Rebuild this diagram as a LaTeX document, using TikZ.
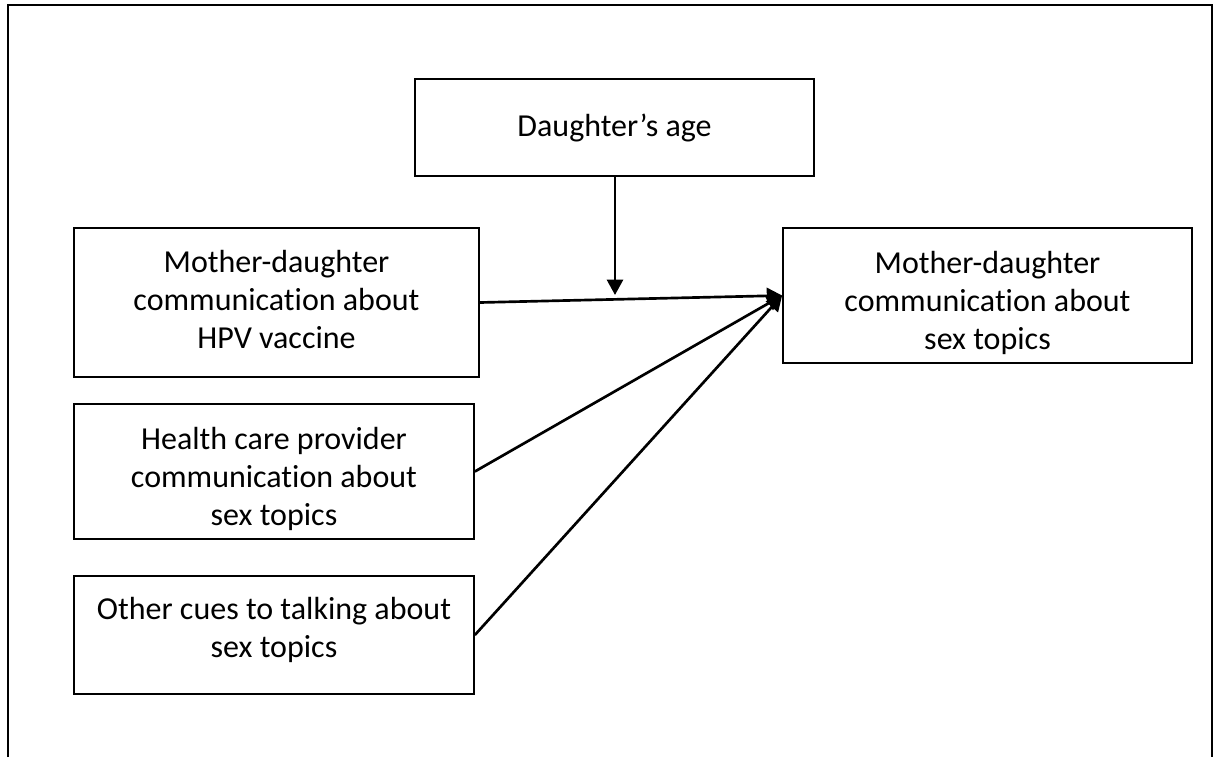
\documentclass[tikz,border=0pt]{standalone}
\usepackage{fontspec}
\setmainfont[Ligatures=NoCommon]{Carlito}
\usetikzlibrary{arrows.meta}
\begin{document}
\begin{tikzpicture}[x=0.75pt,y=-0.75pt,
  box/.style={draw=black, line width=1.3pt, rectangle, inner sep=0pt},
  txt/.style={inner sep=0pt, align=center, font=\fontsize{24}{28.5}\selectfont},
  arr/.style={line width=2pt, -{Triangle[length=11.5pt,width=12pt]}},
  frame/.style={line width=1.3pt}]
\useasboundingbox (0,0) rectangle (1216,757);
% outer frame (open at the bottom)
\draw[frame] (8,757) -- (8,5) -- (1212,5) -- (1212,757);
% boxes
\node[box, minimum width=399*0.75pt, minimum height=97*0.75pt] (age) at (614.5,127.5) {};
\node[box, minimum width=405*0.75pt, minimum height=149*0.75pt] (hpv) at (276.5,302.5) {};
\node[box, minimum width=409*0.75pt, minimum height=135*0.75pt] (out) at (987.5,295.5) {};
\node[box, minimum width=400*0.75pt, minimum height=135*0.75pt] (hcp) at (274,471.5) {};
\node[box, minimum width=400*0.75pt, minimum height=118*0.75pt] (oth) at (274,635) {};
% texts
\node[txt] (agetxt) at (614.5,128) {Daughter’s age};
\node[txt] (hpvtxt) at (276.5,299.5) {Mother-daughter\\communication about\\HPV vaccine};
\node[txt] (outtxt) at (987.5,302.5) {Mother-daughter\\communication about\\sex topics};
\node[txt] (hcptxt) at (274,478.5) {Health care provider\\communication about\\sex topics};
\node[txt] (othtxt) at (274,630) {Other cues to talking about\\sex topics};
% connectors
\coordinate (mod) at (615,295);
\draw[arr] (age.south -| mod) -- (mod);
\draw[arr] (hpv.east) -- (out.west);
\draw[arr] (hcp.east) -- (out.west);
\draw[arr] (oth.east) -- (out.west);
\end{tikzpicture}
\end{document}
